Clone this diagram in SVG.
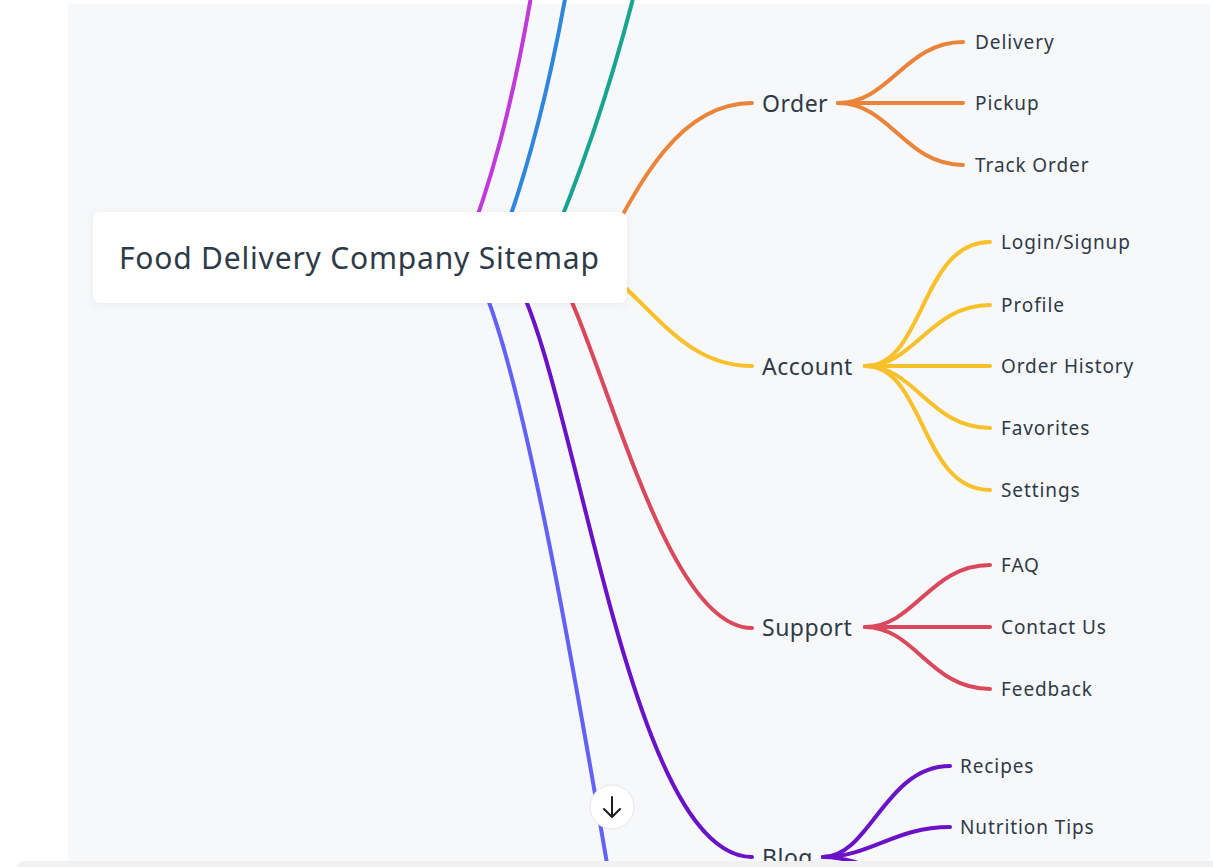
<svg xmlns="http://www.w3.org/2000/svg" width="1213" height="867" viewBox="0 0 1213 867">
<defs>
<style>
.c{fill:none;stroke-width:4;stroke-linecap:round}
.t{font-family:"Noto Sans","DejaVu Sans",sans-serif;fill:#2e3a48}
.b{font-size:23px;letter-spacing:0.5px}
.l{font-size:19px;letter-spacing:0.9px}
</style>
<filter id="sh" x="-10%" y="-30%" width="120%" height="160%">
<feDropShadow dx="0" dy="2" stdDeviation="5" flood-color="#000" flood-opacity="0.05"/>
</filter>
</defs>
<rect x="0" y="0" width="1213" height="867" fill="#ffffff"/>
<rect x="68" y="4" width="1142" height="863" fill="#f7f8fa"/>
<g id="connectors">
<path class="c" stroke="#c03adb" d="M462 258 C485 200 515 110 540 -60"/>
<path class="c" stroke="#2f86dd" d="M495 258 C518 200 550 100 575 -60"/>
<path class="c" stroke="#17a592" d="M545 258 C570 200 610 100 645 -50"/>
<path class="c" stroke="#ea8438" d="M600 258 C640 180 680 103 752 103"/>
<path class="c" stroke="#f8c02a" d="M590 258 C650 300 680 366 752 366"/>
<path class="c" stroke="#d9485c" d="M550 260 C600 330 660 628 752 628"/>
<path class="c" stroke="#6a12c8" d="M508 265 C575 360 625 857 752 857"/>
<path class="c" stroke="#6262fb" d="M470 262 C518 330 580 700 630 1000"/>
<g stroke="#ea8438">
<path class="c" d="M838 103 C890 103 905 42 963 42"/>
<path class="c" d="M838 103 L963 103"/>
<path class="c" d="M838 103 C890 103 905 165 963 165"/>
</g>
<g stroke="#f8c02a">
<path class="c" d="M865 366 C925 366 920 242 990 242"/>
<path class="c" d="M865 366 C915 366 930 305 990 305"/>
<path class="c" d="M865 366 L990 366"/>
<path class="c" d="M865 366 C915 366 930 428 990 428"/>
<path class="c" d="M865 366 C925 366 920 490 990 490"/>
</g>
<g stroke="#d9485c">
<path class="c" d="M865 627 C915 627 930 565 990 565"/>
<path class="c" d="M865 627 L990 627"/>
<path class="c" d="M865 627 C915 627 930 689 990 689"/>
</g>
<g stroke="#6a12c8">
<path class="c" d="M823 857 C870 857 885 766 950 766"/>
<path class="c" d="M823 857 C870 857 895 827 950 827"/>
<path class="c" d="M823 857 C870 857 895 889 950 889"/>
</g>
</g>
<g id="root">
<rect x="93" y="212" width="534" height="91" rx="8" fill="#ffffff" filter="url(#sh)"/>
<text class="t" x="119" y="269" font-size="30" letter-spacing="0.8">Food Delivery Company Sitemap</text>
</g>
<g id="order"><text class="t b" x="762" y="112">Order</text></g>
<g id="delivery"><text class="t l" x="975" y="49">Delivery</text></g>
<g id="pickup"><text class="t l" x="975" y="110">Pickup</text></g>
<g id="track-order"><text class="t l" x="975" y="172">Track Order</text></g>
<g id="account"><text class="t b" x="762" y="375">Account</text></g>
<g id="login"><text class="t l" x="1001" y="249">Login/Signup</text></g>
<g id="profile"><text class="t l" x="1001" y="312">Profile</text></g>
<g id="order-history"><text class="t l" x="1001" y="373">Order History</text></g>
<g id="favorites"><text class="t l" x="1001" y="435">Favorites</text></g>
<g id="settings"><text class="t l" x="1001" y="497">Settings</text></g>
<g id="support"><text class="t b" x="762" y="636">Support</text></g>
<g id="faq"><text class="t l" x="1001" y="572">FAQ</text></g>
<g id="contact"><text class="t l" x="1001" y="634">Contact Us</text></g>
<g id="feedback"><text class="t l" x="1001" y="696">Feedback</text></g>
<g id="blog"><text class="t b" x="762" y="866">Blog</text></g>
<g id="recipes"><text class="t l" x="960" y="773">Recipes</text></g>
<g id="nutrition"><text class="t l" x="960" y="834">Nutrition Tips</text></g>
<g id="scroll-button">
<circle cx="612" cy="807" r="22" fill="#ffffff" stroke="#e6e6e8" stroke-width="1"/>
<path d="M612 797 V817 M604 809 L612 817 L620 809" fill="none" stroke="#1e1e1e" stroke-width="2" stroke-linecap="round" stroke-linejoin="round"/>
</g>
<rect x="15" y="861" width="1220" height="30" rx="10" fill="#f1f1f2"/>
</svg>
